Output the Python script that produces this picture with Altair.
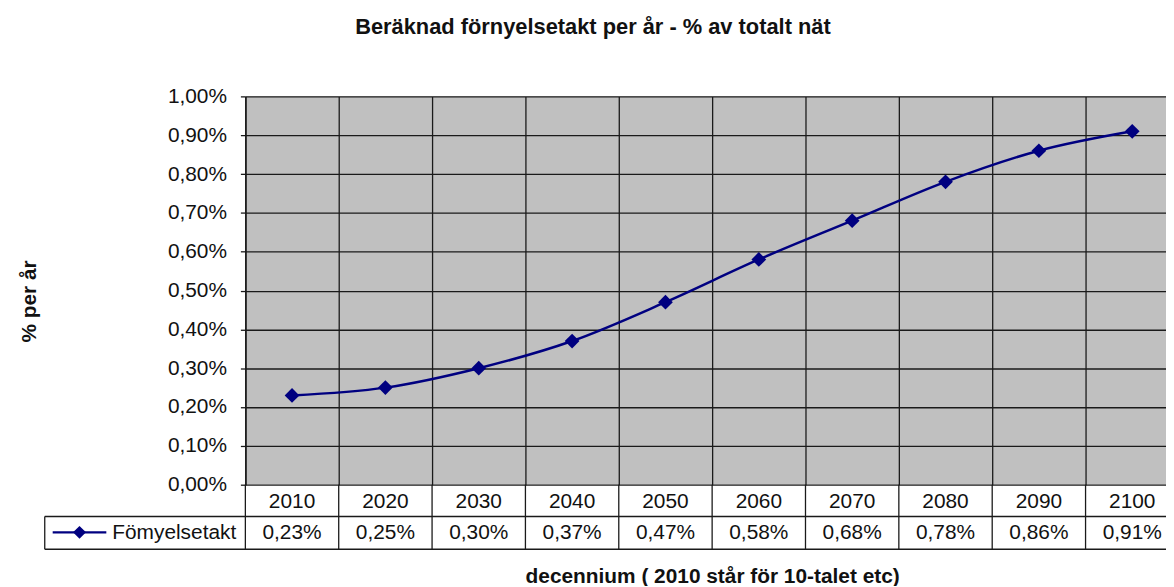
import altair as alt
import pandas as pd

# ---- data ----
years = ["2010", "2020", "2030", "2040", "2050", "2060", "2070", "2080", "2090", "2100"]
values = [0.23, 0.25, 0.30, 0.37, 0.47, 0.58, 0.68, 0.78, 0.86, 0.91]
y_ticks = [0.0, 0.1, 0.2, 0.3, 0.4, 0.5, 0.6, 0.7, 0.8, 0.9, 1.0]
title_text = "Beräknad förnyelsetakt per år - % av totalt nät"
y_title = "% per år"
x_title = "decennium ( 2010 står för 10-talet etc)"
series_name = "Fömyelsetakt"

df = pd.DataFrame({"year": years, "value": values})
one = pd.DataFrame({"k": [0]})

W = 940
H = 391
FONT = "Liberation Sans"
NAVY = "#000080"
LINE = "#1a1a1a"
ROW1 = 32
ROW2 = 65
LEG_L = -202

x_scale = alt.Scale(type="band", domain=years, paddingInner=0, paddingOuter=0)
y_scale = alt.Scale(domain=[0, 1], nice=False)

label_expr = "replace(format(datum.value, '.2f'), '.', ',') + '%'"

x_axis = alt.Axis(
    labels=False, ticks=False, domain=False, grid=True,
    gridColor=LINE, gridWidth=1.3, bandPosition=0,
    title=x_title, titleFont=FONT, titleFontSize=21, titleFontWeight="bold",
    titleColor="#111", titleY=92, titleBaseline="middle",
)
y_axis = alt.Axis(
    values=y_ticks, tickCount=11, labelExpr=label_expr, labelOverlap=False,
    grid=True, gridColor=LINE, gridWidth=1.3,
    domain=True, domainColor=LINE, domainWidth=1.5,
    ticks=True, tickSize=5, tickColor=LINE, tickWidth=1.3,
    labelFont=FONT, labelFontSize=21, labelColor="#111", labelPadding=14,
    title=y_title, titleFont=FONT, titleFontSize=21, titleFontWeight="bold",
    titleColor="#111", titleAngle=270, titleX=-217, titleY=206,
    titleAlign="center", titleBaseline="middle",
)

x_enc = alt.X("year:N", scale=x_scale, bandPosition=0.5, axis=x_axis)
y_enc = alt.Y("value:Q", scale=y_scale, axis=y_axis)

base = alt.Chart(df)

line = base.mark_line(color=NAVY, strokeWidth=2.5, interpolate="monotone").encode(
    x=x_enc, y=y_enc
)

points = base.mark_point(shape="diamond", filled=True, size=220, color=NAVY, opacity=1).encode(
    x=x_enc, y=y_enc
)

# data table below the plot
vlines = base.mark_rule(color=LINE, strokeWidth=1.3).encode(
    x=alt.X("year:N", scale=x_scale, bandPosition=0, axis=x_axis),
    y=alt.value(H),
    y2=alt.value(H + ROW2),
)

hline1 = alt.Chart(one).mark_rule(color=LINE, strokeWidth=1.3).encode(
    x=alt.value(LEG_L), x2=alt.value(W), y=alt.value(H + ROW1)
)
hline2 = alt.Chart(one).mark_rule(color=LINE, strokeWidth=1.3).encode(
    x=alt.value(LEG_L), x2=alt.value(W), y=alt.value(H + ROW2)
)
leg_left = alt.Chart(one).mark_rule(color=LINE, strokeWidth=1.3).encode(
    x=alt.value(LEG_L), y=alt.value(H + ROW1), y2=alt.value(H + ROW2)
)

year_text = base.mark_text(font=FONT, fontSize=21, color="#111", baseline="middle", align="center").encode(
    x=alt.X("year:N", scale=x_scale, bandPosition=0.5, axis=x_axis),
    y=alt.value(H + 17),
    text="year:N",
)

value_text = base.transform_calculate(
    lab="replace(format(datum.value, '.2f'), '.', ',') + '%'"
).mark_text(font=FONT, fontSize=21, color="#111", baseline="middle", align="center").encode(
    x=alt.X("year:N", scale=x_scale, bandPosition=0.5, axis=x_axis),
    y=alt.value(H + 49),
    text="lab:N",
)

leg_line = alt.Chart(one).mark_rule(color=NAVY, strokeWidth=2.5).encode(
    x=alt.value(-194), x2=alt.value(-140), y=alt.value(H + 48)
)
leg_point = alt.Chart(one).mark_point(shape="diamond", filled=True, size=170, color=NAVY, opacity=1).encode(
    x=alt.value(-167), y=alt.value(H + 48)
)
leg_text = alt.Chart(one).mark_text(font=FONT, fontSize=21, color="#111", baseline="middle", align="left").encode(
    x=alt.value(-134), y=alt.value(H + 49), text=alt.value(series_name)
)

chart = alt.layer(
    line, points, vlines, hline1, hline2, leg_left,
    year_text, value_text, leg_line, leg_point, leg_text,
).properties(
    width=W,
    height=H,
    title=alt.Title(
        title_text, font=FONT, fontSize=22, fontWeight="bold", color="#111",
        anchor="middle", frame="group", dx=-120, offset=47,
    ),
    autosize=alt.AutoSizeParams(type="none"),
    padding={"left": 239, "top": 87, "right": -13, "bottom": 100},
).configure(
    background="white"
).configure_view(
    fill="#c0c0c0", stroke=None
)

chart.save("out.html", embed_options={"renderer": "svg", "actions": False})
